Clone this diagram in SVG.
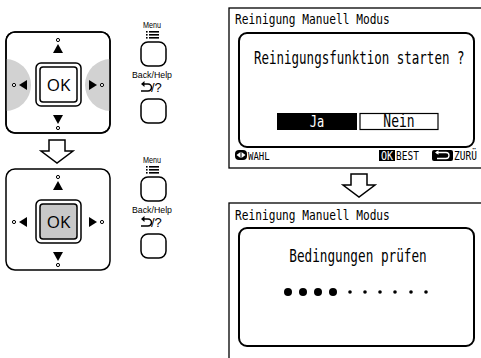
<svg xmlns="http://www.w3.org/2000/svg" width="481" height="358" viewBox="0 0 481 358">
<style>
.ln{fill:none;stroke:#000;stroke-width:1.5}
.wt{fill:#fff;stroke:#000;stroke-width:1.5}
.blk{fill:#000}
.lab{font-family:"Liberation Sans",Arial,sans-serif;font-size:8.5px;fill:#000;text-anchor:middle}
.lcd{font-family:"DejaVu Sans Mono","Liberation Mono",monospace;fill:#000}
.ok{font-family:"Open Sans","Liberation Sans",sans-serif;font-size:17px;text-anchor:middle;fill:#000}
</style>
<defs>
<clipPath id="kc"><rect x="6" y="32" width="104" height="101" rx="9"/></clipPath>
<g id="arrows">
<path class="blk" d="M58,44 L53,53 L63,53 Z"/>
<circle class="wt" cx="58" cy="40" r="1.6" style="stroke-width:1"/>
<path class="blk" d="M58,124 L53,115 L63,115 Z"/>
<circle class="wt" cx="58" cy="128" r="1.6" style="stroke-width:1"/>
<path class="blk" d="M19,85 L27,80 L27,90 Z"/>
<circle class="wt" cx="14" cy="85" r="1.6" style="stroke-width:1"/>
<path class="blk" d="M97,85 L89,80 L89,90 Z"/>
<circle class="wt" cx="102" cy="85" r="1.6" style="stroke-width:1"/>
</g>
<g id="side">
<text class="lab" x="152" y="28" textLength="18" lengthAdjust="spacingAndGlyphs">Menu</text>
<g class="blk">
<rect x="146" y="31" width="1.6" height="1.6"/><rect x="149" y="31" width="10" height="1.6"/>
<rect x="146" y="34" width="1.6" height="1.6"/><rect x="149" y="34" width="10" height="1.6"/>
<rect x="146" y="37" width="1.6" height="1.6"/><rect x="149" y="37" width="10" height="1.6"/>
</g>
<rect class="wt" x="141" y="42" width="25" height="24" rx="7"/>
<text class="lab" x="152" y="78" textLength="40" lengthAdjust="spacingAndGlyphs">Back/Help</text>
<path class="ln" d="M142,84 L148,84 A3.5,3.5 0 0 1 148,91 L141,91"/>
<path class="blk" d="M141,84 L144.5,81 L144.5,87 Z"/>
<text x="151" y="92" style="font-family:'Liberation Sans',sans-serif;font-size:13px">/?</text>
<rect class="wt" x="141" y="99" width="25" height="24" rx="7"/>
</g>
</defs>

<g id="keypad1">
<rect class="wt" x="6" y="32" width="104" height="101" rx="9"/>
<g clip-path="url(#kc)" fill="#d2d2d2">
<circle cx="5" cy="85" r="26"/>
<circle cx="111" cy="85" r="26"/>
</g>
<rect class="ln" x="6" y="32" width="104" height="101" rx="9"/>
<rect class="wt" x="36" y="63" width="45" height="43" rx="5"/>
<rect class="wt" x="40" y="67" width="37" height="35" rx="3"/>
<text class="ok" x="58.5" y="91">OK</text>
<use href="#arrows"/>
</g>

<g id="side1"><use href="#side"/></g>

<g id="keypad2" transform="translate(0,137)">
<rect class="wt" x="6" y="32" width="104" height="101" rx="9"/>
<rect class="wt" x="36" y="63" width="45" height="43" rx="5"/>
<rect x="40" y="67" width="37" height="35" rx="3" fill="#c8c8c8" stroke="#000" stroke-width="1.5"/>
<text class="ok" x="58.5" y="91">OK</text>
<use href="#arrows"/>
</g>

<g id="side2" transform="translate(0,135)"><use href="#side"/></g>

<g id="connectors">
<path class="wt" d="M49,140 L65,140 L65,151 L73,151 L57,163 L41,151 L49,151 Z"/>
<path class="wt" d="M351,174 L367,174 L367,185 L375,185 L359,197 L343,185 L351,185 Z"/>
</g>

<g id="screen1">
<rect x="229" y="8" width="270" height="160" fill="#fff" stroke="#000" stroke-width="1.3"/>
<text class="lcd" transform="translate(235,24) scale(1,1.25)" font-size="11.2">Reinigung Manuell Modus</text>
<rect x="239" y="33" width="235" height="114" rx="8" fill="#fff" stroke="#000" stroke-width="2"/>
<text class="lcd" transform="translate(254,64) scale(1,1.4)" font-size="12.5">Reinigungsfunktion starten ?</text>
<rect x="277" y="113" width="80" height="17" fill="#000"/>
<text class="lcd" transform="translate(317,127) scale(1,1.3)" font-size="12" text-anchor="middle" style="fill:#fff">Ja</text>
<rect x="360" y="113.5" width="78" height="16" fill="#fff" stroke="#000" stroke-width="1.2"/>
<text class="lcd" transform="translate(399,127) scale(1,1.3)" font-size="13" text-anchor="middle">Nein</text>
<rect x="235" y="150" width="12" height="10" rx="4" fill="#000"/>
<path d="M236.5,155 L240.5,152 L240.5,158 Z M245.5,155 L241.5,152 L241.5,158 Z" fill="#fff"/>
<text class="lcd" transform="translate(248,160) scale(1,1.25)" font-size="9">WAHL</text>
<rect x="379" y="150" width="16" height="11" fill="#000"/>
<text class="lcd" transform="translate(387,160) scale(1,1.2)" font-size="10" text-anchor="middle" style="fill:#fff">OK</text>
<text class="lcd" transform="translate(396,160) scale(1,1.25)" font-size="9.5">BEST</text>
<rect x="432" y="150" width="21" height="11" rx="2" fill="#000"/>
<path d="M436,152.5 L446,152.5 A3,3 0 0 1 446,158.5 L437,158.5" fill="none" stroke="#fff" stroke-width="1.3"/>
<path d="M435,152.5 L438.5,150.3 L438.5,154.7 Z" fill="#fff"/>
<text class="lcd" transform="translate(454,160) scale(1,1.25)" font-size="9.5">ZURÜ</text>
</g>

<g id="screen2">
<rect x="229" y="203" width="270" height="170" fill="#fff" stroke="#000" stroke-width="1.3"/>
<text class="lcd" transform="translate(235,220) scale(1,1.25)" font-size="11.2">Reinigung Manuell Modus</text>
<rect x="239" y="228" width="235" height="118" rx="8" fill="#fff" stroke="#000" stroke-width="2"/>
<text class="lcd" transform="translate(358,262) scale(1,1.4)" font-size="12.7" text-anchor="middle">Bedingungen prüfen</text>
<g fill="#000">
<circle cx="288" cy="292" r="4"/><circle cx="303" cy="292" r="4"/><circle cx="318" cy="292" r="4"/><circle cx="333" cy="292" r="4"/>
<circle cx="350" cy="292" r="1.8"/><circle cx="365" cy="292" r="1.8"/><circle cx="380" cy="292" r="1.8"/><circle cx="395" cy="292" r="1.8"/><circle cx="411" cy="292" r="1.8"/><circle cx="426" cy="292" r="1.8"/>
</g>
</g>
</svg>
